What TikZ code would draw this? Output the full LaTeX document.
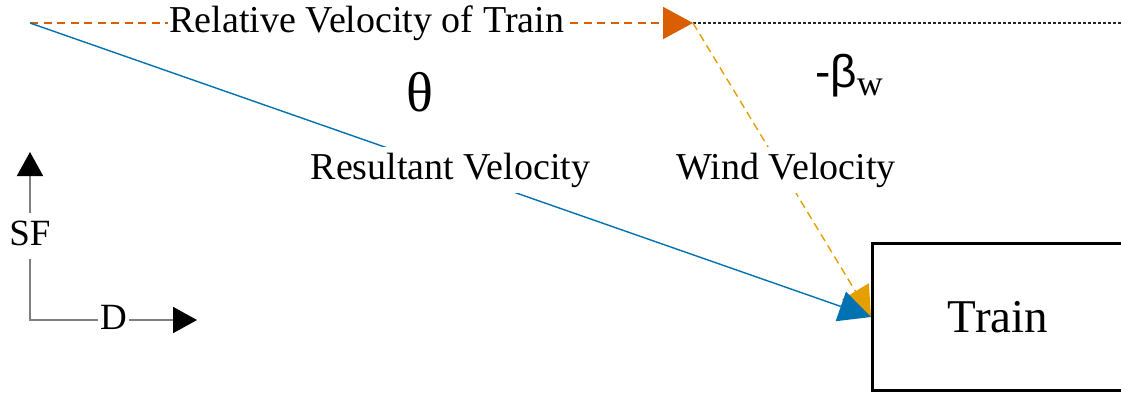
\documentclass[tikz,border=0pt]{standalone}
\usepackage{fontspec}
\setmainfont{Liberation Serif}
\newfontfamily\arialf{Liberation Sans}
\usetikzlibrary{arrows.meta}
\definecolor{vorange}{HTML}{D95F02}
\definecolor{wyellow}{HTML}{E69F00}
\definecolor{rblue}{HTML}{0072B2}
\definecolor{axgray}{HTML}{7F7F7F}
\begin{document}
\begin{tikzpicture}[x=1pt,y=-1pt,
  lbl/.style={fill=white, inner xsep=2pt, inner ysep=6pt, text height=26pt, text depth=8pt,
              font=\fontsize{38}{44}\selectfont, text=black},
  axlbl/.style={lbl, font=\fontsize{37}{44}\selectfont},
  relline/.style={draw=vorange, line width=2pt, dash pattern=on 8pt off 5.5pt,
              -{Triangle[length=30pt,width=32pt,fill=vorange,color=vorange]}},
  windline/.style={draw=wyellow, line width=1.4pt, dash pattern=on 8pt off 5pt,
              -{Triangle[length=30pt,width=31pt,fill=wyellow,color=wyellow]}},
  resline/.style={draw=rblue, line width=1.4pt,
              -{Triangle[length=32pt,width=31pt,fill=rblue,color=rblue]}},
  dotline/.style={draw=black!85, line width=1.3pt, dash pattern=on 3pt off 2pt},
  axisline/.style={draw=axgray, line width=2pt,
              {Triangle[length=24pt,width=26pt,fill=black,color=black]}-{Triangle[length=24pt,width=26pt,fill=black,color=black]}},
  trainbox/.style={draw, line width=3pt, minimum width=251pt, minimum height=146.5pt,
              inner sep=0pt, font=\fontsize{47}{52}\selectfont}
]
\useasboundingbox (0,0) rectangle (1121,392);
\clip (0,0) rectangle (1121,392);

\coordinate (O) at (30,23);
\coordinate (P) at (693,23);
\coordinate (E) at (1121,23);
\coordinate (C) at (30,320);
\coordinate (SFtip) at (30,152);
\coordinate (Dtip) at (197,320);

\node[trainbox] (train) at (998,317) {Train};

\draw[dotline] (P) -- (E);
\draw[relline] (O) -- node[pos=0.508,lbl] (relL) {Relative Velocity of Train} (P);
\draw[windline] (P) -- node[midway,lbl,xshift=4pt] (windL) {Wind Velocity} (train.west);
\draw[resline] (O) -- node[midway,lbl] (resL) {Resultant Velocity} (train.west);

\node[font=\fontsize{56}{60}\selectfont] (theta) at (420,92) {θ};
\node[inner sep=0pt] (beta) at (849,76) {{\arialf\fontsize{46}{50}\selectfont -β}\raisebox{-8pt}{\fontsize{36}{40}\selectfont w}};

\draw[axisline] (SFtip) -- node[axlbl] (sfL) {SF} (C) -- node[axlbl] (dL) {D} (Dtip);
\end{tikzpicture}
\end{document}
